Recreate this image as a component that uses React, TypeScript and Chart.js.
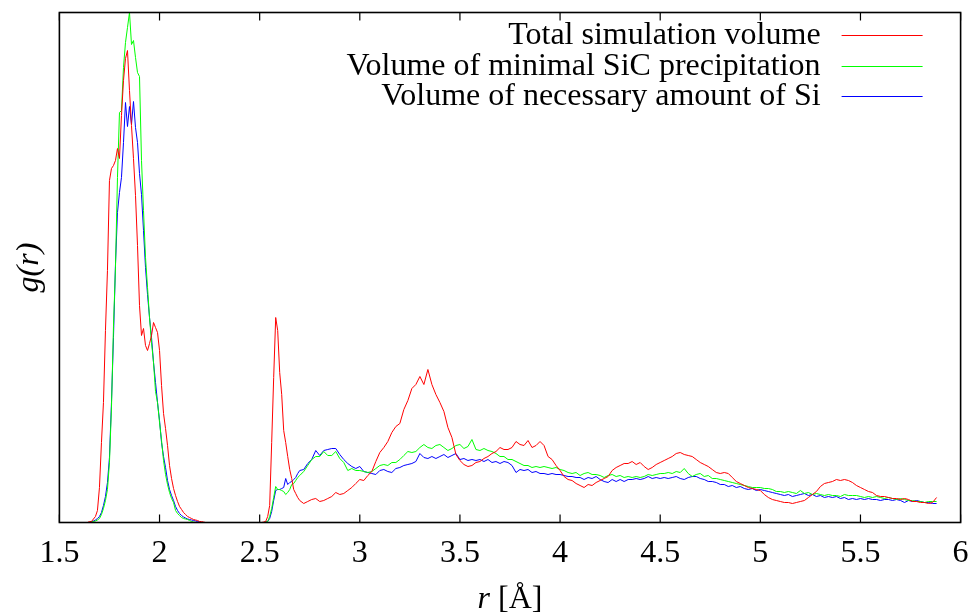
import { useEffect, useRef } from 'react';
import { Chart, registerables } from 'chart.js';

Chart.register(...registerables);

const FONT = '"Liberation Serif", "Times New Roman", serif';

// ---- axis ticks ----
const X_TICKS = [1.5, 2, 2.5, 3, 3.5, 4, 4.5, 5, 5.5, 6];
const X_TICK_LABELS = ['1.5', '2', '2.5', '3', '3.5', '4', '4.5', '5', '5.5', '6'];
const X_MIN = 1.5;
const X_MAX = 6;
const Y_MIN = 0;
const Y_MAX = 5.1;
const X_TITLE_VAR = 'r';
const X_TITLE_UNIT = ' [Å]';
const Y_TITLE = 'g(r)';

// ---- series ----
const SERIES_LABELS = [
  'Total simulation volume',
  'Volume of minimal SiC precipitation',
  'Volume of necessary amount of Si',
];
const SERIES_COLORS = ['#ff0000', '#00ff00', '#0000ff'];

// r grid (Å): first peak 1.60..2.30 step 0.01, gap point 2.40, second rise 2.50..2.70 step 0.01, tail 2.72..5.88 step 0.02
const R_PEAK_START = 1.6;
const R_PEAK_STEP = 0.01;
const R_GAP = [2.4];
const R_RISE_START = 2.5;
const R_RISE_STEP = 0.01;
const R_TAIL_START = 2.72;
const R_TAIL_STEP = 0.02;

// g(r) — total simulation volume (red)
const RED_PEAK = [
  0, 0, 0, 0, 0, 0.01, 0.01, 0.035, 0.06, 0.12,
  0.35, 0.8, 1.2, 1.92, 2.52, 3.42, 3.54, 3.57, 3.62, 3.74,
  3.64, 4.07, 4.42, 4.64, 4.72, 4.32, 3.97, 3.64, 3.27, 2.77,
  2.17, 1.87, 1.94, 1.77, 1.72, 1.79, 1.87, 2.0, 1.95, 1.9,
  1.72, 1.37, 1.09, 0.94, 0.77, 0.57, 0.44, 0.34, 0.27, 0.21,
  0.16, 0.13, 0.1, 0.08, 0.06, 0.05, 0.04, 0.03, 0.025, 0.02,
  0.01, 0.01, 0.005, 0, 0, 0, 0, 0, 0, 0, 0,
];
const RED_GAP = [0];
const RED_RISE = [
  0, 0, 0.005, 0.01, 0.06, 0.17, 0.8, 1.45, 2.05, 1.92,
  1.5, 1.28, 0.92, 0.8, 0.66, 0.53, 0.44, 0.33, 0.29, 0.25, 0.22,
];
const RED_TAIL = [
  0.19, 0.21, 0.23, 0.24, 0.21, 0.22, 0.24, 0.26, 0.3, 0.28,
  0.29, 0.32, 0.35, 0.39, 0.43, 0.42, 0.47, 0.51, 0.61, 0.7,
  0.75, 0.81, 0.9, 0.96, 0.99, 1.13, 1.22, 1.34, 1.38, 1.46,
  1.38, 1.53, 1.38, 1.28, 1.2, 1.11, 0.95, 0.85, 0.68, 0.62,
  0.58, 0.56, 0.57, 0.6, 0.61, 0.64, 0.66, 0.69, 0.71, 0.75,
  0.73, 0.73, 0.75, 0.81, 0.78, 0.77, 0.82, 0.75, 0.77, 0.81,
  0.77, 0.66, 0.63, 0.57, 0.52, 0.46, 0.43, 0.42, 0.39, 0.37,
  0.35, 0.38, 0.37, 0.4, 0.42, 0.44, 0.46, 0.52, 0.55, 0.57,
  0.59, 0.59, 0.61, 0.58, 0.6, 0.56, 0.53, 0.55, 0.58, 0.6,
  0.62, 0.64, 0.66, 0.69, 0.7, 0.68, 0.67, 0.66, 0.63, 0.6,
  0.58, 0.56, 0.53, 0.5, 0.49, 0.5, 0.49, 0.45, 0.41, 0.39,
  0.37, 0.35, 0.34, 0.33, 0.32, 0.28, 0.25, 0.23, 0.22, 0.21,
  0.2, 0.2, 0.19, 0.2, 0.21, 0.22, 0.25, 0.28, 0.31, 0.36,
  0.39, 0.4, 0.41, 0.43, 0.42, 0.43, 0.42, 0.4, 0.37, 0.35,
  0.33, 0.31, 0.3, 0.27, 0.26, 0.26, 0.25, 0.24, 0.24, 0.23,
  0.24, 0.23, 0.21, 0.21, 0.2, 0.2, 0.19, 0.2, 0.25,
];

// g(r) — volume of minimal SiC precipitation (green)
const GREEN_PEAK = [
  0, 0, 0, 0, 0, 0, 0.005, 0.01, 0.015, 0.025,
  0.04, 0.08, 0.14, 0.22, 0.33, 0.6, 1.15, 1.96, 2.55, 3.45,
  4.1, 4.12, 4.55, 4.8, 4.95, 5.1, 4.78, 4.82, 4.65, 4.5,
  4.46, 3.62, 3.12, 2.65, 2.35, 2.05, 1.8, 1.6, 1.31, 1.2,
  1.0, 0.82, 0.62, 0.48, 0.38, 0.3, 0.24, 0.2, 0.12, 0.09,
  0.07, 0.05, 0.04, 0.035, 0.03, 0.02, 0.01, 0.005, 0, 0,
  0, 0, 0, 0, 0, 0, 0, 0, 0, 0, 0,
];
const GREEN_GAP = [0];
const GREEN_RISE = [
  0, 0, 0, 0.005, 0.01, 0.06, 0.14, 0.25, 0.36, 0.33,
  0.33, 0.32, 0.31, 0.28, 0.3, 0.33, 0.38, 0.39, 0.42, 0.45, 0.47,
];
const GREEN_TAIL = [
  0.51, 0.57, 0.63, 0.66, 0.66, 0.71, 0.67, 0.67, 0.71, 0.64,
  0.6, 0.52, 0.54, 0.52, 0.52, 0.51, 0.5, 0.51, 0.54, 0.57,
  0.58, 0.57, 0.6, 0.6, 0.63, 0.67, 0.71, 0.7, 0.71, 0.75,
  0.78, 0.75, 0.74, 0.77, 0.78, 0.75, 0.72, 0.74, 0.77, 0.78,
  0.74, 0.76, 0.83, 0.73, 0.72, 0.74, 0.72, 0.71, 0.69, 0.66,
  0.66, 0.63, 0.63, 0.61, 0.59, 0.57, 0.57, 0.55, 0.56, 0.55,
  0.56, 0.55, 0.54, 0.55, 0.53, 0.52, 0.5, 0.49, 0.5, 0.47,
  0.49, 0.5, 0.48, 0.48, 0.47, 0.45, 0.47, 0.48, 0.46, 0.47,
  0.45, 0.46, 0.45, 0.46, 0.45, 0.46, 0.48, 0.47, 0.48, 0.49,
  0.49, 0.5, 0.49, 0.51, 0.5, 0.54, 0.49, 0.46, 0.48, 0.49,
  0.46, 0.47, 0.44, 0.44, 0.43, 0.42, 0.41, 0.4, 0.39, 0.38,
  0.37, 0.36, 0.35, 0.35, 0.35, 0.34, 0.34, 0.33, 0.31, 0.31,
  0.3, 0.31, 0.3, 0.29, 0.32, 0.29, 0.3, 0.28, 0.29, 0.28,
  0.27, 0.28, 0.27, 0.27, 0.26, 0.28, 0.27, 0.27, 0.27, 0.26,
  0.25, 0.26, 0.25, 0.26, 0.25, 0.24, 0.25, 0.24, 0.23, 0.24,
  0.23, 0.22, 0.22, 0.21, 0.21, 0.2, 0.21, 0.21, 0.21,
];

// g(r) — volume of necessary amount of Si (blue)
const BLUE_PEAK = [
  0, 0, 0, 0, 0, 0, 0.01, 0.015, 0.025, 0.04,
  0.06, 0.1, 0.17, 0.26, 0.4, 0.65, 1.2, 1.85, 2.58, 3.1,
  3.3, 3.45, 3.8, 4.2, 3.96, 4.16, 3.98, 4.21, 3.95, 3.8,
  3.49, 3.28, 2.92, 2.55, 2.28, 2.05, 1.85, 1.6, 1.4, 1.2,
  1.02, 0.8, 0.66, 0.55, 0.42, 0.33, 0.27, 0.22, 0.16, 0.12,
  0.09, 0.07, 0.055, 0.045, 0.035, 0.03, 0.025, 0.02, 0.015, 0.01,
  0.005, 0, 0, 0, 0, 0, 0, 0, 0, 0, 0,
];
const BLUE_GAP = [0];
const BLUE_RISE = [
  0, 0, 0, 0.005, 0.01, 0.04, 0.11, 0.22, 0.32, 0.33,
  0.33, 0.34, 0.35, 0.44, 0.38, 0.4, 0.41, 0.43, 0.45, 0.49, 0.52,
];
const BLUE_TAIL = [
  0.53, 0.59, 0.63, 0.72, 0.67, 0.72, 0.73, 0.74, 0.74, 0.68,
  0.63, 0.59, 0.56, 0.54, 0.56, 0.51, 0.5, 0.49, 0.48, 0.52,
  0.53, 0.51, 0.5, 0.54, 0.55, 0.57, 0.58, 0.59, 0.61, 0.69,
  0.65, 0.64, 0.66, 0.64, 0.66, 0.68, 0.65, 0.67, 0.69, 0.63,
  0.64, 0.62, 0.63, 0.62, 0.63, 0.61, 0.63, 0.6, 0.61, 0.59,
  0.61, 0.6, 0.57, 0.5, 0.53, 0.52, 0.53, 0.5, 0.51, 0.49,
  0.49, 0.48, 0.49, 0.48, 0.48, 0.47, 0.46, 0.46, 0.45, 0.45,
  0.43, 0.45, 0.44, 0.46, 0.43, 0.41, 0.4, 0.43, 0.41, 0.43,
  0.41, 0.43, 0.43, 0.44, 0.43, 0.44, 0.46, 0.44, 0.45, 0.44,
  0.45, 0.44, 0.45, 0.46, 0.44, 0.43, 0.45, 0.46, 0.46, 0.44,
  0.43, 0.41, 0.41, 0.4, 0.38, 0.38, 0.36, 0.37, 0.35, 0.36,
  0.34, 0.33, 0.34, 0.32, 0.33, 0.32, 0.31, 0.3, 0.29, 0.28,
  0.27, 0.28, 0.26, 0.27, 0.28, 0.29, 0.27, 0.28, 0.26, 0.27,
  0.25, 0.26, 0.25, 0.26, 0.24, 0.25, 0.23, 0.24, 0.23, 0.24,
  0.23, 0.24, 0.23, 0.23, 0.22, 0.23, 0.23, 0.22, 0.23, 0.22,
  0.2, 0.22, 0.21, 0.22, 0.21, 0.2, 0.2, 0.19, 0.19,
];

function grid(start: number, step: number, count: number): number[] {
  const out: number[] = [];
  for (let i = 0; i < count; i++) out.push(Math.round((start + i * step) * 1000) / 1000);
  return out;
}

const R_VALUES = [
  ...grid(R_PEAK_START, R_PEAK_STEP, RED_PEAK.length),
  ...R_GAP,
  ...grid(R_RISE_START, R_RISE_STEP, RED_RISE.length),
  ...grid(R_TAIL_START, R_TAIL_STEP, RED_TAIL.length),
];

const SERIES_VALUES = [
  [...RED_PEAK, ...RED_GAP, ...RED_RISE, ...RED_TAIL],
  [...GREEN_PEAK, ...GREEN_GAP, ...GREEN_RISE, ...GREEN_TAIL],
  [...BLUE_PEAK, ...BLUE_GAP, ...BLUE_RISE, ...BLUE_TAIL],
];

// ---- styling constants ----
const FONT_SIZE = 32;
const TICK_LEN = 8;
const LEGEND_LINE_LEN = 81;
const LEGEND_RIGHT_INSET = 38;
const LEGEND_TEXT_GAP = 21;
const LEGEND_FIRST_Y = 22.5;
const LEGEND_ROW = 30.5;
const X_TITLE_BASELINE_FROM_BOTTOM = 7;

const framePlugin = {
  id: 'gnuplotFrame',
  afterDatasetsDraw(chart: any) {
    const { ctx, chartArea } = chart;
    const { left, right, top, bottom } = chartArea;
    const xs = chart.scales.x;
    ctx.save();
    ctx.strokeStyle = '#000';
    ctx.lineWidth = 1.6;
    ctx.strokeRect(left, top, right - left, bottom - top);
    ctx.lineWidth = 1.2;
    ctx.beginPath();
    xs.ticks.forEach((t: any) => {
      const px = xs.getPixelForValue(t.value);
      ctx.moveTo(px, bottom);
      ctx.lineTo(px, bottom - TICK_LEN);
      ctx.moveTo(px, top);
      ctx.lineTo(px, top + TICK_LEN);
    });
    ctx.stroke();
    ctx.restore();
  },
};

const textPlugin = {
  id: 'legendAndTitle',
  afterDraw(chart: any) {
    const { ctx, chartArea } = chart;
    ctx.save();
    // legend inside the plot, top right, sample line on the right of the text
    ctx.font = `${FONT_SIZE}px ${FONT}`;
    ctx.textAlign = 'right';
    ctx.textBaseline = 'alphabetic';
    chart.data.datasets.forEach((ds: any, i: number) => {
      const y = Math.round(chartArea.top + LEGEND_FIRST_Y + i * LEGEND_ROW) + 0.5;
      const lineRight = chartArea.right - LEGEND_RIGHT_INSET;
      const lineLeft = lineRight - LEGEND_LINE_LEN;
      ctx.strokeStyle = ds.borderColor;
      ctx.lineWidth = 1;
      ctx.beginPath();
      ctx.moveTo(lineLeft, y);
      ctx.lineTo(lineRight, y);
      ctx.stroke();
      ctx.fillStyle = '#000';
      ctx.fillText(ds.label, lineLeft - LEGEND_TEXT_GAP, y + 8);
    });
    // x axis title: italic r followed by upright unit
    const italicFont = `italic ${FONT_SIZE}px ${FONT}`;
    const uprightFont = `${FONT_SIZE}px ${FONT}`;
    ctx.font = italicFont;
    const w1 = ctx.measureText(X_TITLE_VAR).width;
    ctx.font = uprightFont;
    const w2 = ctx.measureText(X_TITLE_UNIT).width;
    const cx = (chartArea.left + chartArea.right) / 2;
    const startX = cx - (w1 + w2) / 2;
    const by = chart.height - X_TITLE_BASELINE_FROM_BOTTOM;
    ctx.textAlign = 'left';
    ctx.fillStyle = '#000';
    ctx.font = italicFont;
    ctx.fillText(X_TITLE_VAR, startX, by);
    ctx.font = uprightFont;
    ctx.fillText(X_TITLE_UNIT, startX + w1, by);
    ctx.restore();
  },
};

export default function App() {
  const canvasRef = useRef<HTMLCanvasElement>(null);

  useEffect(() => {
    if (!canvasRef.current) return;
    const chart = new Chart(canvasRef.current, {
      type: 'line',
      data: {
        datasets: SERIES_LABELS.map((label, s) => ({
          label,
          data: R_VALUES.map((r, i) => ({ x: r, y: SERIES_VALUES[s][i] })),
          borderColor: SERIES_COLORS[s],
          backgroundColor: SERIES_COLORS[s],
          borderWidth: 1,
          pointRadius: 0,
          tension: 0,
          fill: false,
        })),
      },
      options: {
        animation: false,
        responsive: true,
        maintainAspectRatio: false,
        layout: { padding: { top: 12.5, right: 12.4, left: 0, bottom: 0 } },
        plugins: {
          legend: { display: false },
          tooltip: { enabled: false },
        },
        scales: {
          x: {
            type: 'linear',
            min: X_MIN,
            max: X_MAX,
            afterBuildTicks: (scale: any) => {
              scale.ticks = X_TICKS.map((v) => ({ value: v }));
            },
            afterFit: (scale: any) => {
              scale.height = 92.5;
              scale.paddingLeft = 0;
              scale.paddingRight = 0;
            },
            grid: { display: false, drawTicks: false },
            border: { display: false },
            ticks: {
              color: '#000',
              font: { family: FONT, size: FONT_SIZE },
              padding: 12,
              maxRotation: 0,
              autoSkip: false,
              callback: (_v: any, i: number) => X_TICK_LABELS[i],
            },
            title: { display: false },
          },
          y: {
            min: Y_MIN,
            max: Y_MAX,
            afterFit: (scale: any) => {
              scale.width = 59.4;
            },
            grid: { display: false, drawTicks: false },
            border: { display: false },
            ticks: { display: false },
            title: {
              display: true,
              text: Y_TITLE,
              color: '#000',
              font: { family: FONT, size: FONT_SIZE, style: 'italic' },
              padding: { top: 10, bottom: 0 },
            },
          },
        },
      },
      plugins: [framePlugin, textPlugin],
    });
    return () => chart.destroy();
  }, []);

  return (
    <div style={{ position: 'fixed', left: 0, top: 0, width: 973, height: 615, background: '#fff' }}>
      <canvas ref={canvasRef} />
    </div>
  );
}
